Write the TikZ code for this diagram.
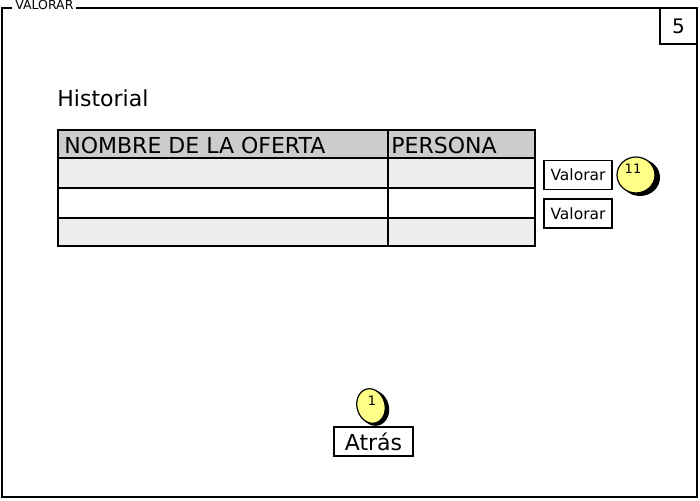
\documentclass[tikz,border=0pt]{standalone}
\usepackage{fontspec}
\setmainfont{DejaVu Sans}
\usetikzlibrary{positioning,shapes.geometric}
\definecolor{rowgray}{HTML}{EEEEEE}
\definecolor{headgray}{HTML}{CCCCCC}
\definecolor{badgeyellow}{HTML}{FFFF88}
\tikzset{
  btn/.style={draw, line width=1.5pt, fill=white, inner sep=3pt, font=\fontsize{15.5}{17}\selectfont},
  badge/.style={ellipse, draw, line width=1.2pt, fill=badgeyellow, inner sep=0pt},
  shade/.style={ellipse, fill=black, inner sep=0pt},
  num/.style={font=\fontsize{13}{14}\selectfont, inner sep=0pt}
}
\begin{document}
\begin{tikzpicture}[x=1pt, y=-1pt, thick]
  \useasboundingbox (0,0) rectangle (700,500);
  % frame
  \draw[line width=1.5pt] (2,8) rectangle (697,497);
  \node[fill=white, inner xsep=3pt, inner ysep=1pt, anchor=west, font=\fontsize{12.5}{13}\selectfont] (title) at (12,4.5) {VALORAR};
  \node[draw, line width=1.3pt, fill=white, minimum width=37pt, minimum height=36pt, font=\fontsize{20}{22}\selectfont] (page) at (678.5,26) {5};
  % history
  \node[anchor=west, inner sep=0pt, font=\fontsize{22}{24}\selectfont] (hist) at (57,98) {Historial};
  % table
  \fill[headgray] (58,130) rectangle (535,158);
  \fill[rowgray] (58,158) rectangle (535,188);
  \fill[rowgray] (58,218) rectangle (535,246);
  \draw[line width=1.2pt] (58,158) -- (535,158);
  \draw[line width=1.2pt] (58,188) -- (535,188);
  \draw[line width=1.2pt] (58,218) -- (535,218);
  \draw[line width=1.2pt] (388,130) -- (388,246);
  \draw[line width=1.8pt] (58,130) rectangle (535,246);
  \node[anchor=west, font=\fontsize{22}{24}\selectfont, inner sep=0pt] (colA) at (64,145.5) {NOMBRE DE LA OFERTA};
  \node[anchor=west, font=\fontsize{22}{24}\selectfont, inner sep=0pt] (colB) at (391,145.5) {PERSONA};
  % buttons
  \node[btn, minimum width=68pt, minimum height=29pt] (val1) at (578,175) {Valorar};
  \node[btn, minimum width=68pt, minimum height=29pt] (val2) at (578,213.5) {Valorar};
  \node[shade, minimum width=40pt, minimum height=37pt] (s11) at (640,177.5) {};
  \node[badge, minimum width=38pt, minimum height=36pt] (b11) at (636,175) {};
  \node[num] (n11) at (633,169) {11};
  \node[btn, minimum width=79pt, minimum height=29pt, font=\fontsize{22}{24}\selectfont] (back) at (373.5,441.5) {Atrás};
  \node[shade, minimum width=30pt, minimum height=36pt, rotate=15] (s1) at (374,408) {};
  \node[badge, minimum width=28pt, minimum height=35pt, rotate=15] (b1) at (371,406) {};
  \node[num] (n1) at (372,401) {1};
\end{tikzpicture}
\end{document}
